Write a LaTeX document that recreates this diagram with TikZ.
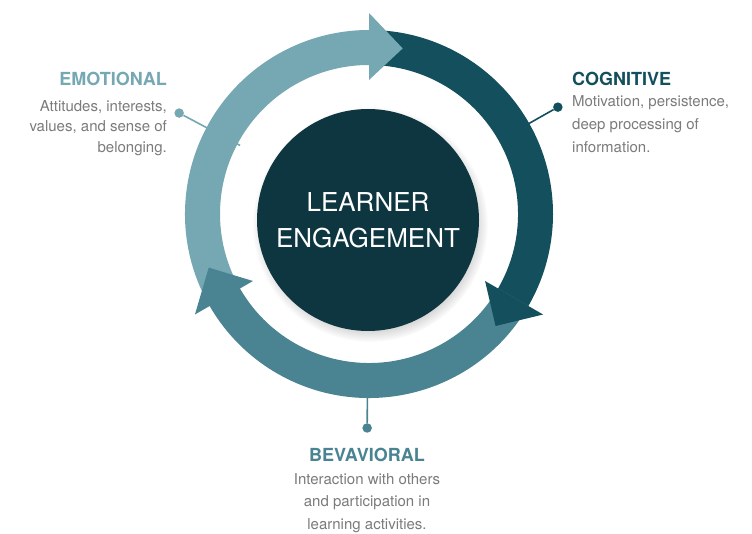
\documentclass[tikz,border=0pt]{standalone}
\usepackage{fontspec}
\setmainfont{TeX Gyre Heros}
\usetikzlibrary{shadows}

\definecolor{lightteal}{HTML}{76A8B3}
\definecolor{deepteal}{HTML}{134F5C}
\definecolor{midteal}{HTML}{4A8391}
\definecolor{coreteal}{HTML}{0E3640}
\definecolor{notegray}{HTML}{7B7B7B}

\tikzset{
  heading/.style={font=\fontsize{18}{21}\selectfont\bfseries, inner sep=0pt},
  note/.style={font=\fontsize{15}{21}\selectfont, text=notegray, inner sep=0pt},
  tipdot/.style={circle, inner sep=0pt, minimum size=9.5pt},
  stem/.style={line width=1.6pt},
}

\begin{document}
\begin{tikzpicture}[x=1pt,y=1pt]
    \fill[white] (0,0) rectangle (752,533);
    \useasboundingbox (0,0) rectangle (752,533);

    \begin{scope}[shift={(369,319)}]
        % pins, drawn first so the ring hides their inner part
        \node[tipdot, fill=lightteal] (emodot) at (152:215) {};
        \coordinate (emoend) at (152:146);
        \draw[stem, lightteal] (emodot) -- (emoend);

        \node[tipdot, fill=deepteal] (cogdot) at (29.5:217) {};
        \coordinate (cogend) at (29.5:155);
        \draw[stem, deepteal] (cogdot) -- (cogend);

        \node[tipdot, fill=midteal] (behdot) at (-90.5:214) {};
        \coordinate (behend) at (-90.5:155);
        \draw[stem, midteal] (behdot) -- (behend);

        % ring bands
        \fill[lightteal] (210:184) arc[start angle=210, end angle=89, radius=184]
            -- (89:149) arc[start angle=89, end angle=210, radius=149] -- cycle;
        \fill[deepteal] (90:184) arc[start angle=90, end angle=-31, radius=184]
            -- (-31:149) arc[start angle=-31, end angle=90, radius=149] -- cycle;
        \fill[midteal] (-30:184) arc[start angle=-30, end angle=-151, radius=184]
            -- (-151:149) arc[start angle=-151, end angle=-30, radius=149] -- cycle;

        % arrow heads on top
        \fill[lightteal] (90:134) -- (90:201) -- (78.5:169) -- cycle;
        \fill[deepteal] (-30:134) -- (-30:201) -- (-41.5:169) -- cycle;
        \fill[midteal] (210:134) -- (210:201) -- (198.5:169) -- cycle;
    \end{scope}

    \node[circle, fill=coreteal, minimum size=222pt, text=white, align=center,
          font=\fontsize{26}{36}\selectfont,
          circular drop shadow={shadow scale=1.06, shadow xshift=2pt, shadow yshift=-4pt, opacity=0.45}]
          (core) at (368,313) {LEARNER\\ENGAGEMENT};

    \node[heading, text=lightteal, anchor=base east] (emotional) at (167,447) {EMOTIONAL};
    \node[note, anchor=north east, align=right, font=\fontsize{15}{20.5}\selectfont] (emonote) at (167,433)
        {Attitudes, interests,\\values, and sense of\\belonging.};

    \node[heading, text=deepteal, anchor=base west] (cognitive) at (572,447) {COGNITIVE};
    \node[note, anchor=north west, align=left, font=\fontsize{15}{23}\selectfont] (cognote) at (572,438)
        {Motivation, persistence,\\deep processing of\\information.};

    \node[heading, text=midteal, anchor=base] (behavioral) at (367,72) {BEVAVIORAL};
    \node[note, anchor=north, align=center, font=\fontsize{15}{22.5}\selectfont] (behnote) at (367,60)
        {Interaction with others\\and participation in\\learning activities.};
\end{tikzpicture}
\end{document}
